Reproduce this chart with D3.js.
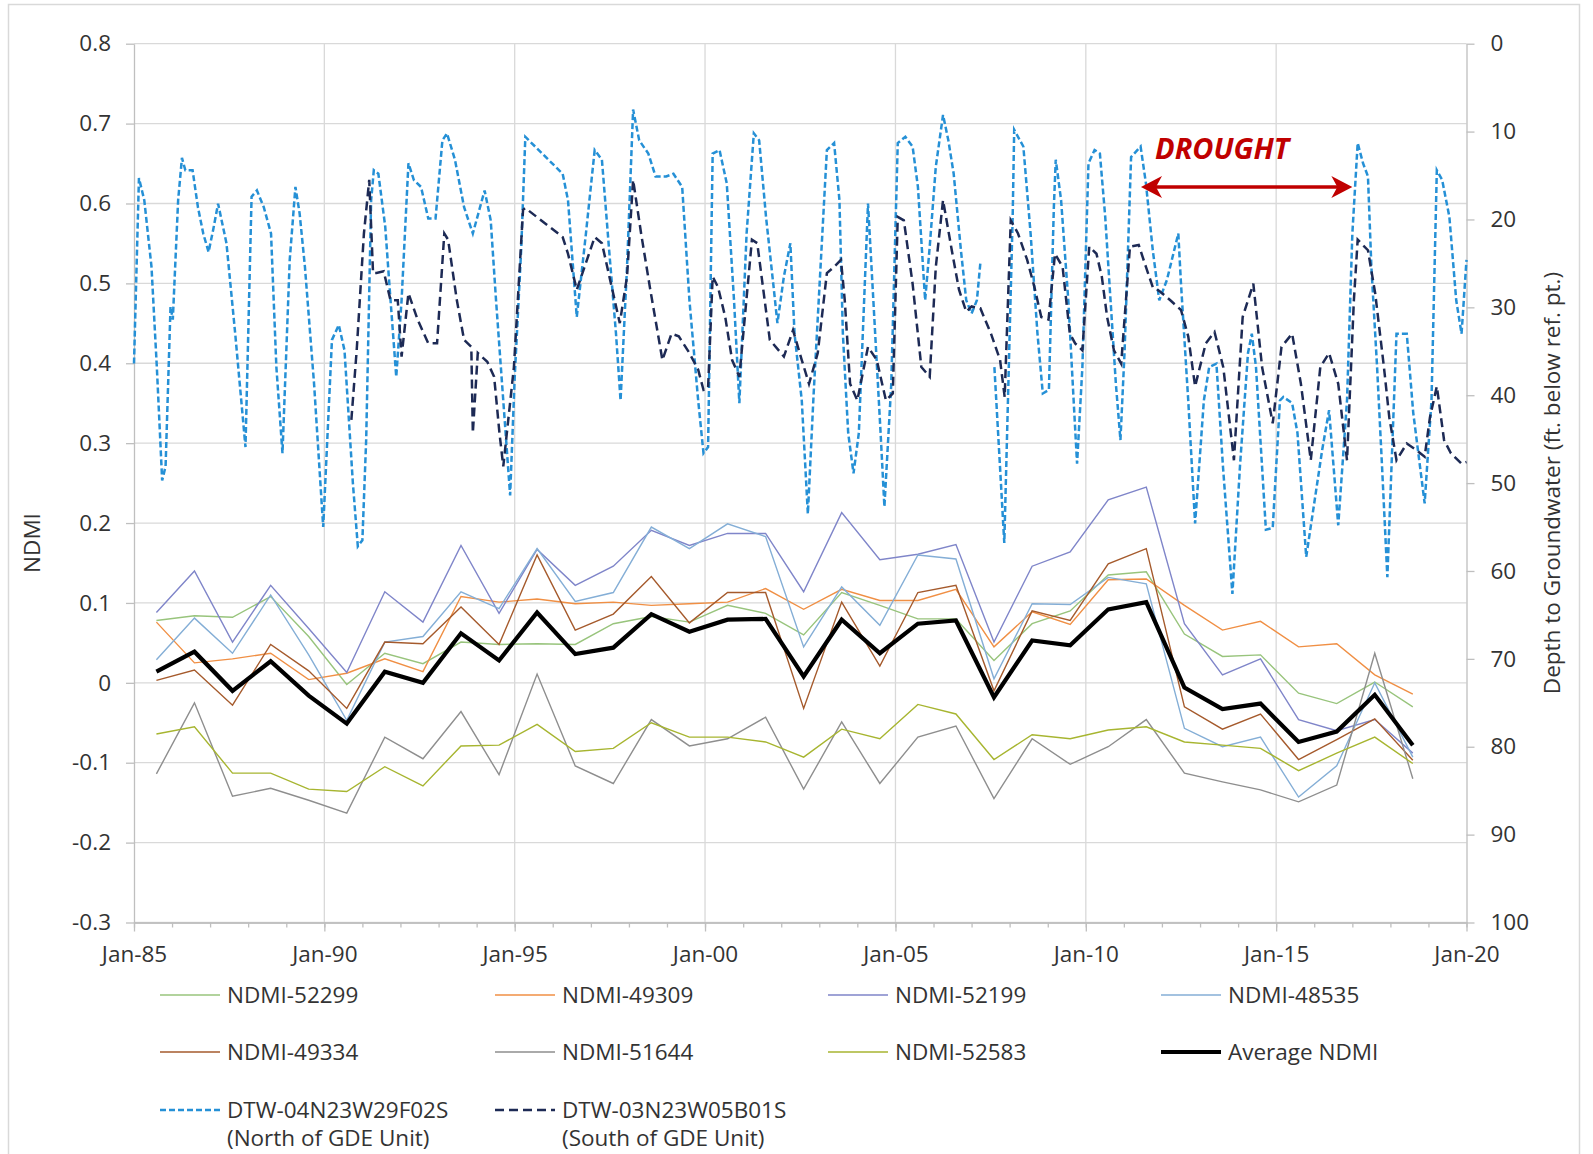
<!DOCTYPE html>
<html><head><meta charset="utf-8">
<script src="https://cdn.jsdelivr.net/npm/d3@7"></script>
<style>
html,body{margin:0;padding:0;background:#fff;}
svg{display:block;font-family:"Open Sans","Noto Sans",sans-serif;}
</style></head><body>
<svg id="chart" width="1593" height="1154"></svg>
<script>
// ---------------- DATA ----------------
const ndmiYears = [1985,1986,1987,1988,1989,1990,1991,1992,1993,1994,1995,1996,1997,1998,1999,2000,2001,2002,2003,2004,2005,2006,2007,2008,2009,2010,2011,2012,2013,2014,2015,2016,2017,2018];
const ndmi52299 = [0.078,0.084,0.082,0.108,0.058,-0.002,0.037,0.024,0.051,0.048,0.049,0.048,0.074,0.083,0.076,0.097,0.087,0.060,0.113,0.097,0.080,0.080,0.028,0.074,0.090,0.135,0.139,0.061,0.033,0.035,-0.013,-0.026,0.001,-0.030];
const ndmi49309 = [0.076,0.025,0.030,0.037,0.004,0.012,0.030,0.014,0.108,0.101,0.105,0.099,0.101,0.097,0.099,0.101,0.118,0.092,0.117,0.103,0.103,0.117,0.045,0.089,0.073,0.129,0.130,0.097,0.066,0.077,0.045,0.049,0.010,-0.014];
const ndmi52199 = [0.088,0.140,0.051,0.122,0.068,0.013,0.114,0.076,0.172,0.087,0.167,0.122,0.146,0.191,0.172,0.187,0.187,0.114,0.213,0.154,0.161,0.173,0.051,0.146,0.164,0.229,0.245,0.074,0.010,0.030,-0.046,-0.060,-0.046,-0.088];
const ndmi48535 = [0.029,0.081,0.037,0.110,0.035,-0.047,0.051,0.058,0.114,0.093,0.168,0.102,0.113,0.195,0.168,0.199,0.183,0.045,0.120,0.072,0.160,0.155,0.005,0.099,0.098,0.132,0.124,-0.057,-0.080,-0.068,-0.143,-0.104,0.000,-0.093];
const ndmi49334 = [0.003,0.016,-0.028,0.048,0.015,-0.032,0.051,0.049,0.095,0.048,0.160,0.066,0.086,0.133,0.075,0.113,0.113,-0.032,0.101,0.021,0.113,0.122,-0.010,0.090,0.078,0.149,0.168,-0.030,-0.058,-0.039,-0.096,-0.071,-0.045,-0.097];
const ndmi51644 = [-0.114,-0.025,-0.142,-0.132,-0.147,-0.163,-0.068,-0.095,-0.036,-0.115,0.011,-0.104,-0.126,-0.046,-0.079,-0.070,-0.043,-0.133,-0.049,-0.126,-0.068,-0.054,-0.145,-0.070,-0.102,-0.080,-0.046,-0.113,-0.124,-0.134,-0.149,-0.128,0.037,-0.120];
const ndmi52583 = [-0.064,-0.055,-0.113,-0.113,-0.133,-0.136,-0.105,-0.129,-0.079,-0.078,-0.052,-0.086,-0.082,-0.050,-0.068,-0.068,-0.074,-0.093,-0.058,-0.070,-0.027,-0.039,-0.096,-0.065,-0.070,-0.059,-0.055,-0.074,-0.078,-0.082,-0.110,-0.088,-0.068,-0.101];
const ndmiAverage = [0.014,0.039,-0.010,0.027,-0.016,-0.051,0.014,0.000,0.062,0.028,0.088,0.036,0.044,0.086,0.064,0.079,0.080,0.008,0.079,0.037,0.074,0.078,-0.018,0.053,0.047,0.092,0.101,-0.006,-0.033,-0.026,-0.074,-0.061,-0.015,-0.078];

// Depth to groundwater (ft below ref. pt.), time as decimal year
const dtwNorthTime = [1985.00,1985.13,1985.27,1985.46,1985.60,1985.74,1985.83,1985.96,1986.02,1986.16,1986.26,1986.35,1986.54,1986.68,1986.82,1986.96,1987.08,1987.21,1987.43,1987.66,1987.93,1988.09,1988.23,1988.41,1988.60,1988.74,1988.90,1989.09,1989.24,1989.35,1989.49,1989.73,1989.97,1990.20,1990.38,1990.53,1990.75,1990.88,1991.00,1991.10,1991.23,1991.30,1991.42,1991.60,1991.74,1991.89,1992.03,1992.21,1992.35,1992.54,1992.73,1992.92,1993.10,1993.22,1993.43,1993.67,1993.90,1994.21,1994.37,1994.51,1994.70,1994.88,1995.00,1995.17,1995.28,1996.26,1996.40,1996.63,1996.87,1997.10,1997.29,1997.48,1997.66,1997.78,1997.95,1998.11,1998.27,1998.51,1998.70,1998.98,1999.17,1999.40,1999.59,1999.82,1999.96,2000.08,2000.20,2000.38,2000.57,2000.76,2000.90,2001.09,2001.28,2001.42,2001.60,2001.79,2001.90,2002.07,2002.24,2002.35,2002.54,2002.70,2002.85,2003.20,2003.39,2003.53,2003.62,2003.76,2003.90,2004.04,2004.28,2004.42,2004.61,2004.71,2004.89,2005.06,2005.26,2005.45,2005.59,2005.78,2005.90,2006.06,2006.25,2006.39,2006.53,2006.72,2006.86,2007.00,2007.14,2007.23,2007.40,2007.60,2007.86,2008.08,2008.12,2008.36,2008.55,2008.73,2008.87,2009.03,2009.16,2009.21,2009.35,2009.54,2009.68,2009.77,2009.91,2010.07,2010.23,2010.37,2010.51,2010.65,2010.79,2010.91,2011.02,2011.19,2011.44,2011.58,2011.76,2011.93,2012.13,2012.43,2012.50,2012.69,2012.87,2013.10,2013.24,2013.43,2013.60,2013.85,2014.05,2014.26,2014.36,2014.47,2014.73,2014.91,2015.10,2015.19,2015.42,2015.56,2015.79,2016.21,2016.39,2016.63,2016.86,2017.00,2017.14,2017.28,2017.41,2017.50,2017.65,2017.78,2017.92,2018.16,2018.43,2018.60,2018.90,2019.08,2019.22,2019.36,2019.55,2019.73,2019.87,2020.00];
const dtwNorthDepth = [36.4,15.3,17.8,25.4,36.8,49.7,48.1,29.9,31.4,17.8,13.0,14.4,14.4,18.6,21.6,23.7,21.2,18.2,22.7,33.0,45.9,17.4,16.7,18.6,21.6,36.8,46.6,24.6,16.3,19.3,25.4,38.7,55.0,33.7,32.0,34.9,50.0,57.2,56.5,45.0,17.8,14.4,14.8,20.8,29.2,37.9,29.2,13.6,15.5,16.3,19.9,19.9,11.0,10.2,13.2,18.6,21.6,16.7,20.1,29.2,40.6,51.4,38.0,23.5,10.6,14.8,17.8,31.1,21.6,12.1,13.2,23.5,33.0,40.6,25.4,7.5,11.0,12.5,15.1,15.1,14.8,16.3,29.2,40.6,46.6,45.9,12.5,12.1,15.9,29.2,40.9,21.6,10.2,11.0,19.7,27.3,31.8,26.5,22.7,33.0,40.6,53.5,40.0,12.1,11.3,17.8,33.0,44.3,48.9,44.3,18.2,29.2,44.3,52.7,38.7,11.3,10.6,11.7,16.3,29.2,23.1,14.0,8.1,11.0,14.8,23.5,29.2,30.7,29.2,25.0,null,36.8,56.8,19.7,9.8,11.7,21.6,33.0,39.8,39.4,18.6,13.2,17.8,29.2,40.6,47.8,36.8,13.6,12.1,12.5,19.7,29.2,38.7,45.1,34.9,12.9,11.7,15.9,23.5,29.2,26.9,21.6,27.3,40.6,54.6,40.6,36.8,36.4,48.0,62.6,48.0,35.2,33.0,36.8,55.3,55.1,40.6,40.2,40.9,44.3,58.4,46.2,41.7,54.8,40.6,21.6,11.3,13.6,15.1,25.4,36.8,48.1,60.7,33.0,33.0,42.0,52.3,40.6,14.4,15.5,19.7,29.2,33.0,24.6];

const dtwSouthTime = [1990.71,1990.85,1991.04,1991.18,1991.28,1991.37,1991.56,1991.74,1991.93,1992.03,1992.21,1992.45,1992.73,1992.96,1993.15,1993.25,1993.48,1993.67,1993.86,1993.90,1994.03,1994.28,1994.46,1994.60,1994.70,1994.98,1995.22,1995.28,1996.26,1996.40,1996.63,1997.10,1997.29,1997.76,1997.95,1998.11,1998.32,1998.55,1998.88,1999.12,1999.31,1999.59,1999.82,1999.96,2000.08,2000.20,2000.34,2000.53,2000.71,2000.90,2001.23,2001.37,2001.70,2002.07,2002.31,2002.54,2002.73,2002.96,2003.20,2003.39,2003.57,2003.67,2003.81,2004.00,2004.28,2004.51,2004.75,2004.93,2005.06,2005.22,2005.45,2005.68,2005.90,2006.06,2006.25,2006.48,2006.67,2006.86,2007.00,2007.23,2007.51,2007.75,2007.87,2008.03,2008.22,2008.46,2008.65,2008.83,2009.02,2009.19,2009.39,2009.58,2009.72,2009.91,2010.09,2010.28,2010.42,2010.56,2010.74,2010.93,2011.16,2011.39,2011.58,2011.76,2011.95,2012.22,2012.50,2012.69,2012.87,2013.15,2013.38,2013.61,2013.89,2014.12,2014.40,2014.63,2014.91,2015.14,2015.42,2015.65,2015.91,2016.16,2016.39,2016.63,2016.86,2017.04,2017.14,2017.41,2017.60,2017.83,2017.97,2018.16,2018.43,2018.67,2018.90,2019.04,2019.22,2019.41,2019.59,2019.87,2020.00];
const dtwSouthDepth = [42.8,34.9,21.6,15.5,26.1,26.1,25.9,29.2,29.2,35.6,28.4,31.4,34.1,34.1,21.6,22.3,29.2,33.7,34.5,44.3,35.2,36.2,37.9,44.3,48.1,36.8,18.9,18.7,22.0,23.9,28.0,22.0,22.7,31.8,26.5,15.5,21.6,27.7,36.0,33.0,33.3,35.2,37.1,39.4,39.2,26.5,27.7,31.1,36.0,37.9,22.3,22.7,33.7,35.6,32.6,36.0,38.7,35.2,26.1,25.4,24.6,29.2,38.7,40.6,34.5,36.0,40.6,39.8,19.7,20.1,27.3,36.8,37.9,25.4,17.8,23.5,28.0,30.5,29.9,30.1,33.0,36.0,40.2,20.1,21.6,24.6,27.7,31.1,31.4,23.9,25.4,33.0,34.1,34.9,23.1,23.9,26.5,31.1,34.9,36.4,23.1,22.9,25.4,27.7,28.2,29.2,30.3,33.3,39.0,34.1,32.8,36.8,47.4,31.1,27.3,36.8,43.2,34.5,33.0,38.7,47.4,36.8,35.2,38.7,47.4,29.2,22.3,23.5,28.4,36.8,42.5,47.4,45.5,46.2,47.0,42.5,39.0,45.1,46.6,47.8,47.6];

const leftTicks = [-0.3,-0.2,-0.1,0,0.1,0.2,0.3,0.4,0.5,0.6,0.7,0.8];
const rightTicks = [0,10,20,30,40,50,60,70,80,90,100];
const xMajorYears = [1985,1990,1995,2000,2005,2010,2015,2020];
const ndmiLabels = ["NDMI-52299","NDMI-49309","NDMI-52199","NDMI-48535","NDMI-49334","NDMI-51644","NDMI-52583","Average NDMI"];
const dtwLabels = [["DTW-04N23W29F02S","(North of GDE Unit)"],["DTW-03N23W05B01S","(South of GDE Unit)"]];
const annotationText = "DROUGHT";
const droughtStart = 2011.45, droughtEnd = 2017.0;

// ---------------- STYLES ----------------
const ndmiSeries = [ndmi52299, ndmi49309, ndmi52199, ndmi48535, ndmi49334, ndmi51644, ndmi52583, ndmiAverage];
const ndmiColors = ["#98c47c","#f08f44","#7f85c9","#84aed6","#a55a2c","#8e8e8e","#a7b530","#000000"];
const ndmiWidths = [1.4,1.4,1.4,1.4,1.4,1.4,1.4,4.2];
const dtwColors = ["#2590d6","#1d2a55"];
const dtwDash = ["6,3","9,5"];

// ---------------- SCALES ----------------
const svg = d3.select("#chart");
const X0 = 134, X1 = 1466.5, Y0 = 43.7, Y1 = 922.5;
const dec = y => { const Y = Math.floor(y); const a = new Date(Y,0,1), b = new Date(Y+1,0,1); return new Date(+a + (y-Y)*(b-a)); };
const x = d3.scaleTime().domain([new Date(1985,0,1), new Date(2020,0,1)]).range([X0, X1]);
const yL = d3.scaleLinear().domain([-0.3,0.8]).range([Y1, Y0]);
const yR = d3.scaleLinear().domain([0,100]).range([Y0, Y1]);

// outer chart border
svg.append("rect").attr("x",8.5).attr("y",4.5).attr("width",1571).attr("height",1180)
  .attr("fill","none").attr("stroke","#d9d9d9").attr("stroke-width",1.5);

// gridlines
const grid = svg.append("g");
grid.selectAll("line.h").data(leftTicks).join("line")
  .attr("x1",X0).attr("x2",X1).attr("y1",d=>yL(d)).attr("y2",d=>yL(d))
  .attr("stroke","#d9d9d9").attr("stroke-width",1.3);
grid.selectAll("line.v").data(xMajorYears.slice(1,-1)).join("line")
  .attr("x1",d=>x(new Date(d,0,1))).attr("x2",d=>x(new Date(d,0,1))).attr("y1",Y0).attr("y2",Y1)
  .attr("stroke","#d9d9d9").attr("stroke-width",1.3);

const fmtL = v => Math.abs(v) < 1e-9 ? "0" : v.toFixed(1);
const txtColor = "#333333";
const axisColor = "#bfbfbf";
const fs = "22.5px";

function styleAxis(g){
  g.selectAll("path.domain").attr("stroke",axisColor).attr("stroke-width",1.3);
  g.selectAll(".tick line").attr("stroke",axisColor).attr("stroke-width",1.3);
  g.selectAll(".tick text").attr("fill",txtColor).style("font-size",fs).style("font-family","'Open Sans',sans-serif");
}

// left axis
const gL = svg.append("g").attr("transform",`translate(${X0},0)`)
  .call(d3.axisLeft(yL).tickValues(leftTicks).tickFormat(fmtL).tickSize(8).tickSizeOuter(0).tickPadding(15));
styleAxis(gL);
// right axis
const gR = svg.append("g").attr("transform",`translate(${X1},0)`)
  .call(d3.axisRight(yR).tickValues(rightTicks).tickSize(8).tickSizeOuter(0).tickPadding(16));
styleAxis(gR);
// bottom minor ticks
const gM = svg.append("g").attr("transform",`translate(0,${Y1})`)
  .call(d3.axisBottom(x).ticks(d3.timeYear.every(1)).tickFormat("").tickSize(5).tickSizeOuter(0));
styleAxis(gM);
// bottom major
const gB = svg.append("g").attr("transform",`translate(0,${Y1})`)
  .call(d3.axisBottom(x).tickValues(xMajorYears.map(d=>new Date(d,0,1))).tickFormat(d3.timeFormat("%b-%y")).tickSize(9).tickSizeOuter(0).tickPadding(15));
styleAxis(gB);

// axis titles
svg.append("text").attr("transform","translate(40,543) rotate(-90)").attr("text-anchor","middle")
  .attr("fill",txtColor).style("font-size",fs).text("NDMI");
svg.append("text").attr("transform","translate(1560,483) rotate(-90)").attr("text-anchor","middle")
  .attr("fill",txtColor).style("font-size",fs).text("Depth to Groundwater (ft. below ref. pt.)");

// NDMI lines
const lineL = d3.line().x(d=>x(d[0])).y(d=>yL(d[1]));
ndmiSeries.forEach((s,k)=>{
  const pts = ndmiYears.map((yr,i)=>[new Date(yr,7,4), s[i]]);
  svg.append("path").datum(pts).attr("d",lineL).attr("fill","none")
    .attr("stroke",ndmiColors[k]).attr("stroke-width",ndmiWidths[k]).attr("stroke-linejoin","miter");
});

// DTW lines
const lineR = d3.line().defined(d=>d[1]!=null).x(d=>x(dec(d[0]))).y(d=>yR(d[1]));
[[dtwNorthTime,dtwNorthDepth],[dtwSouthTime,dtwSouthDepth]].forEach((s,k)=>{
  const pts = s[0].map((t,i)=>[t, s[1][i]]);
  svg.append("path").datum(pts).attr("d",lineR).attr("fill","none")
    .attr("stroke",dtwColors[k]).attr("stroke-width",2.5).attr("stroke-dasharray",dtwDash[k]);
});

// Drought annotation
const red = "#c00000";
const ax0 = x(dec(droughtStart)), ax1 = x(dec(droughtEnd)), ay = 187;
svg.append("line").attr("x1",ax0+12).attr("x2",ax1-12).attr("y1",ay).attr("y2",ay)
  .attr("stroke",red).attr("stroke-width",3.5);
svg.append("path").attr("fill",red)
  .attr("d",`M${ax0},${ay} L${ax0+21},${ay-11} L${ax0+15},${ay} L${ax0+21},${ay+11} Z`);
svg.append("path").attr("fill",red)
  .attr("d",`M${ax1},${ay} L${ax1-21},${ay-11} L${ax1-15},${ay} L${ax1-21},${ay+11} Z`);
svg.append("text").attr("x",1155).attr("y",159).attr("fill",red)
  .style("font-size","29px").style("font-weight","bold").style("font-style","italic").text(annotationText);

// Legend
const colX = [160, 495, 828, 1161];
const rowY = [995, 1052, 1110];
const lg = svg.append("g");
ndmiLabels.forEach((lab,k)=>{
  const cx = colX[k%4], cy = rowY[Math.floor(k/4)];
  lg.append("line").attr("x1",cx).attr("x2",cx+60).attr("y1",cy).attr("y2",cy)
    .attr("stroke",ndmiColors[k]).attr("stroke-width",ndmiWidths[k]);
  lg.append("text").attr("x",cx+67).attr("y",cy).attr("dy","0.36em").attr("fill",txtColor).style("font-size",fs).text(lab);
});
dtwLabels.forEach((lab,k)=>{
  const cx = colX[k], cy = rowY[2];
  lg.append("line").attr("x1",cx).attr("x2",cx+60).attr("y1",cy).attr("y2",cy)
    .attr("stroke",dtwColors[k]).attr("stroke-width",2.5).attr("stroke-dasharray",dtwDash[k]);
  lg.append("text").attr("x",cx+67).attr("y",cy).attr("dy","0.36em").attr("fill",txtColor).style("font-size",fs).text(lab[0]);
  lg.append("text").attr("x",cx+67).attr("y",cy+28).attr("dy","0.36em").attr("fill",txtColor).style("font-size",fs).text(lab[1]);
});
</script>
</body></html>
